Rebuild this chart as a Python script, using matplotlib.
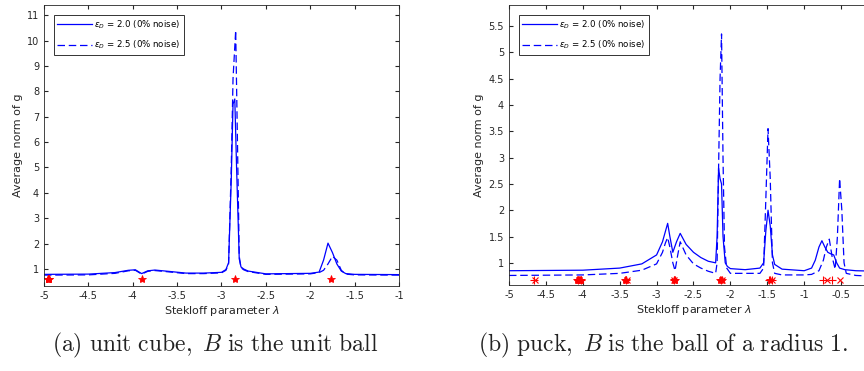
import numpy as np
import matplotlib.pyplot as plt

# (a) unit cube
cube_x_20 = [-5.0, -4.5, -4.2, -4.05, -3.97, -3.9, -3.83, -3.75, -3.6, -3.4, -3.2, -3.0, -2.95, -2.92,
             -2.89, -2.87, -2.85, -2.83, -2.8, -2.78, -2.75, -2.7, -2.5, -2.0, -1.9, -1.85, -1.8, -1.75,
             -1.7, -1.65, -1.6, -1.5, -1.0]
cube_y_20 = [0.79, 0.80, 0.86, 0.95, 0.97, 0.82, 0.93, 0.96, 0.91, 0.84, 0.84, 0.87, 0.98, 1.25,
             4.5, 7.5, 7.7, 5.0, 1.4, 1.08, 1.0, 0.92, 0.81, 0.83, 0.88, 1.35, 2.02, 1.65,
             1.2, 0.92, 0.82, 0.79, 0.78]
cube_x_25 = [-5.0, -4.5, -4.2, -4.05, -3.97, -3.9, -3.83, -3.75, -3.6, -3.4, -3.2, -3.0, -2.95, -2.92,
             -2.89, -2.87, -2.84, -2.82, -2.8, -2.78, -2.75, -2.7, -2.5, -2.0, -1.9, -1.85, -1.8, -1.75,
             -1.7, -1.65, -1.6, -1.5, -1.0]
cube_y_25 = [0.76, 0.77, 0.83, 0.93, 0.95, 0.80, 0.91, 0.94, 0.89, 0.82, 0.82, 0.85, 0.95, 1.2,
             5.0, 8.5, 10.4, 6.0, 1.5, 1.05, 0.97, 0.9, 0.79, 0.81, 0.86, 0.95, 1.2, 1.5,
             1.35, 0.95, 0.80, 0.77, 0.76]
cube_eig = [-4.96, -4.955, -4.95, -4.945, -4.94, -3.9, -2.85, -1.77]

# (b) puck
puck_x_20 = [-5.0, -4.0, -3.5, -3.2, -3.0, -2.92, -2.88, -2.85, -2.82, -2.78, -2.73, -2.68, -2.6,
             -2.5, -2.4, -2.3, -2.2, -2.18, -2.16, -2.14, -2.12, -2.1, -2.07, -2.04, -2.0, -1.8,
             -1.6, -1.55, -1.52, -1.49, -1.46, -1.43, -1.4, -1.3, -1.0, -0.9, -0.85, -0.8, -0.76,
             -0.72, -0.68, -0.64, -0.6, -0.56, -0.52, -0.45, -0.3, 0.0]
puck_y_20 = [0.85, 0.86, 0.9, 0.98, 1.15, 1.4, 1.6, 1.75, 1.5, 1.2, 1.4, 1.56, 1.35,
             1.2, 1.1, 1.03, 1.0, 1.5, 2.8, 2.6, 2.5, 1.5, 1.0, 0.93, 0.89, 0.87,
             0.9, 1.0, 1.6, 2.0, 1.7, 1.15, 0.97, 0.88, 0.85, 0.9, 1.05, 1.3, 1.42,
             1.3, 1.2, 1.17, 1.15, 1.0, 0.9, 0.87, 0.85, 0.84]
puck_x_25 = [-5.0, -4.0, -3.5, -3.2, -3.0, -2.92, -2.88, -2.85, -2.82, -2.78, -2.75, -2.72, -2.68,
             -2.6, -2.5, -2.4, -2.3, -2.2, -2.18, -2.16, -2.14, -2.12, -2.1, -2.08, -2.05, -2.0,
             -1.6, -1.55, -1.52, -1.49, -1.46, -1.43, -1.4, -1.3, -1.0, -0.9, -0.8, -0.74, -0.7,
             -0.66, -0.62, -0.58, -0.55, -0.52, -0.49, -0.46, -0.43, -0.3, 0.0]
puck_y_25 = [0.76, 0.77, 0.8, 0.86, 0.98, 1.2, 1.38, 1.48, 1.3, 1.0, 0.85, 1.1, 1.4,
             1.15, 0.98, 0.9, 0.84, 0.8, 1.0, 2.8, 4.5, 5.35, 3.0, 1.3, 0.9, 0.8,
             0.8, 0.9, 2.2, 3.55, 2.6, 1.0, 0.8, 0.77, 0.77, 0.78, 0.85, 1.05, 1.3,
             1.45, 1.1, 0.88, 1.5, 2.6, 2.0, 1.0, 0.8, 0.76, 0.74]
puck_eig_star = [-4.08, -4.06, -4.05, -4.04, -4.02, -3.43, -3.41, -2.77, -2.75, -2.14, -2.12, -1.46]
puck_eig_plus = [-4.66, -4.07, -4.03, -3.42, -2.76, -2.13, -1.48, -1.44, -0.74, -0.62]
puck_eig_x = [-4.65, -4.05, -3.4, -2.76, -2.12, -1.43, -0.69, -0.52]

tick_col = '#262626'
legend_labels = [r'$\epsilon_D$ = 2.0 (0% noise)', r'$\epsilon_D$ = 2.5 (0% noise)']

fig = plt.figure(figsize=(8.64, 3.71), dpi=100)
ax1 = fig.add_axes([0.0509, 0.229, 0.4109, 0.7575])
ax2 = fig.add_axes([0.5891, 0.232, 0.4271, 0.7545])


def style_axes(ax):
    ax.tick_params(direction='in', top=True, right=True, labelsize=7, colors=tick_col, length=3)
    for s in ax.spines.values():
        s.set_color('#262626')
        s.set_linewidth(0.6)
    ax.set_xlabel(r'Stekloff parameter $\lambda$', fontsize=8, color=tick_col, labelpad=2)
    ax.set_ylabel('Average norm of g', fontsize=8, color=tick_col, labelpad=3)


def add_legend(ax):
    leg = ax.legend(loc='upper left', fontsize=6.2, frameon=True, fancybox=False, edgecolor='black',
                    handlelength=4, borderaxespad=1.15, labelspacing=0.9, handletextpad=0.3)
    leg.get_frame().set_linewidth(0.7)


ax1.plot(cube_x_20, cube_y_20, '-', color='blue', lw=0.9, label=legend_labels[0])
ax1.plot(cube_x_25, cube_y_25, '--', color='blue', lw=0.9, dashes=(6, 3), label=legend_labels[1])
ax1.plot(cube_eig, [0.6] * len(cube_eig), '*', color='red', ms=6, mew=0.6)
ax1.set_xlim(-5, -1)
ax1.set_ylim(0.33, 11.4)
ax1.set_xticks(np.arange(-5, -0.99, 0.5))
ax1.set_xticklabels(['-5', '-4.5', '-4', '-3.5', '-3', '-2.5', '-2', '-1.5', '-1'])
ax1.set_yticks(range(1, 12))
style_axes(ax1)
add_legend(ax1)

ax2.plot(puck_x_20, puck_y_20, '-', color='blue', lw=0.9, label=legend_labels[0])
ax2.plot(puck_x_25, puck_y_25, '--', color='blue', lw=0.9, dashes=(6, 3), label=legend_labels[1])
ax2.plot(puck_eig_star, [0.67] * len(puck_eig_star), '*', color='red', ms=6, mew=0.6)
ax2.plot(puck_eig_plus, [0.67] * len(puck_eig_plus), '+', color='red', ms=6, mew=0.8)
ax2.plot(puck_eig_x, [0.67] * len(puck_eig_x), 'x', color='red', ms=5, mew=0.8)
ax2.set_xlim(-5, 0)
ax2.set_ylim(0.58, 5.9)
ax2.set_xticks(np.arange(-5, -0.49, 0.5))
ax2.set_xticklabels(['-5', '-4.5', '-4', '-3.5', '-3', '-2.5', '-2', '-1.5', '-1', '-0.5'])
ax2.set_yticks(np.arange(1, 5.51, 0.5))
ax2.set_yticklabels(['1', '1.5', '2', '2.5', '3', '3.5', '4', '4.5', '5', '5.5'])
style_axes(ax2)
add_legend(ax2)

plt.rcParams['mathtext.fontset'] = 'cm'
fig.text(0.249, 0.07, r'$\mathrm{(a)\ unit\ cube,\ }B\mathrm{\ is\ the\ unit\ ball}$',
         ha='center', va='center', fontsize=17, color='#222222')
fig.text(0.553, 0.07, r'$\mathrm{(b)\ puck,\ }B\mathrm{\ is\ the\ ball\ of\ a\ radius\ 1.}$',
         ha='left', va='center', fontsize=17, color='#222222')

fig.savefig('out.png', dpi=100)
